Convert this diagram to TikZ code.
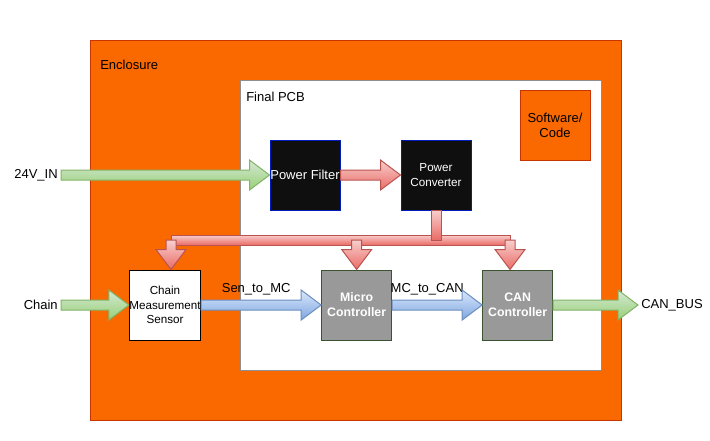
\documentclass[tikz,border=0pt]{standalone}
\usepackage{fontspec}
\setmainfont{Liberation Sans}
\usetikzlibrary{positioning,calc}

\definecolor{encfill}{HTML}{FA6800}
\definecolor{encline}{HTML}{C73500}
\definecolor{pcbline}{HTML}{8F8F8F}
\definecolor{blkfill}{HTML}{0F0F0F}
\definecolor{blkline}{HTML}{001DBC}
\definecolor{mcfill}{HTML}{999999}
\definecolor{mcline}{HTML}{3A5431}
\definecolor{greentop}{HTML}{D5E8D4}
\definecolor{greenbot}{HTML}{97D077}
\definecolor{greenline}{HTML}{82B366}
\definecolor{redtop}{HTML}{F8CECC}
\definecolor{redbot}{HTML}{EA6B66}
\definecolor{redline}{HTML}{B85450}
\definecolor{bluetop}{HTML}{DAE8FC}
\definecolor{bluebot}{HTML}{7EA6E0}
\definecolor{blueline}{HTML}{6C8EBF}

% flat arrows, left to right and top to bottom
\newcommand{\hflex}[3]{%
  \path[#1] ($(#2)+(0,-5)$) -- ($(#2 -| #3)+(-20,-5)$) -- ($(#2 -| #3)+(-20,-15)$) -- (#2 -| #3)
    -- ($(#2 -| #3)+(-20,15)$) -- ($(#2 -| #3)+(-20,5)$) -- ($(#2)+(0,5)$) -- cycle;}
\newcommand{\vflex}[3]{%
  \path[#1] ($(#2)+(-5,0)$) -- ($(#2 |- #3)+(-5,-20)$) -- ($(#2 |- #3)+(-15,-20)$) -- (#2 |- #3)
    -- ($(#2 |- #3)+(15,-20)$) -- ($(#2 |- #3)+(5,-20)$) -- ($(#2)+(5,0)$) -- cycle;}

\begin{document}
\begin{tikzpicture}[x=0.75pt, y=-0.75pt, font=\fontsize{9.75}{11.25}\selectfont,
  box/.style={draw, line width=0.75pt, minimum width=52.5pt, minimum height=52.5pt, inner sep=0pt, align=center},
  blk/.style={box, fill=blkfill, draw=blkline, text=white},
  mcu/.style={box, fill=mcfill, draw=mcline, text=white, font=\fontsize{9.25}{11.25}\selectfont\bfseries},
  small/.style={font=\fontsize{8.75}{11}\selectfont},
  lbl/.style={inner sep=2.25pt},
  greenflex/.style={draw=greenline, line width=0.75pt, top color=greentop, bottom color=greenbot},
  redflex/.style={draw=redline, line width=0.75pt, top color=redtop, bottom color=redbot},
  blueflex/.style={draw=blueline, line width=0.75pt, top color=bluetop, bottom color=bluebot}]
\useasboundingbox (0,0) rectangle (710,440);
\node (enc)[draw=encline, fill=encfill, line width=0.75pt, minimum width=398.25pt, minimum height=285pt, inner sep=0pt] at (355.5,230) {};
\node (encl)[lbl, anchor=west] at (97,65) {Enclosure};
\node (pcb)[draw=pcbline, fill=white, line width=0.75pt, minimum width=270.75pt, minimum height=217.5pt, inner sep=0pt] at (420.5,225) {};
\node (pcbl)[lbl, anchor=west] at (243,97) {Final PCB};
\node (sw)[box, fill=encfill, draw=encline] at (555,125) {Software/\\Code};
\node (filter)[blk] at (305,175) {Power Filter};
\node (conv)[blk, small, right=45pt of filter] {Power\\Converter};
\node (sensor)[box, small, fill=white, draw=black] at (165,305) {Chain\\Measurement\\Sensor};
\node (mc)[mcu, right=90pt of sensor] {Micro\\Controller};
\node (can)[mcu, right=67.5pt of mc] {CAN\\Controller};
\node (in24)[lbl, anchor=east] at (61,175) {24V\_IN};
\node (chain)[lbl, anchor=east] at (61,305) {Chain};
\node (canbus)[lbl, anchor=west] at (638,305) {CAN\_BUS};
\node (sen2mc)[lbl] at ($(sensor.east)!0.5!(mc.west)+(-5,-16)$) {Sen\_to\_MC};
\node (mc2can)[lbl] at ($(mc.east)!0.5!(can.west)+(-10,-16)$) {MC\_to\_CAN};
\coordinate (busL) at (171,240);
\coordinate (busR) at (510,240);
\coordinate (busM) at (busL -| mc.north);

\hflex{greenflex}{in24.east}{filter.west}
\hflex{redflex}{filter.east}{conv.west}
\path[redflex] ($(busL)+(0,-5)$) rectangle ($(busR)+(0,5)$);
\path[redflex] ($(conv.south)+(-5,0)$) rectangle ($(conv.south |- busR)+(5,0)$);
\vflex{redflex}{busL}{sensor.north}
\vflex{redflex}{busM}{mc.north}
\vflex{redflex}{busR}{can.north}
\hflex{greenflex}{chain.east}{sensor.west}
\hflex{blueflex}{sensor.east}{mc.west}
\hflex{blueflex}{mc.east}{can.west}
\hflex{greenflex}{can.east}{canbus.west}
\end{tikzpicture}
\end{document}
